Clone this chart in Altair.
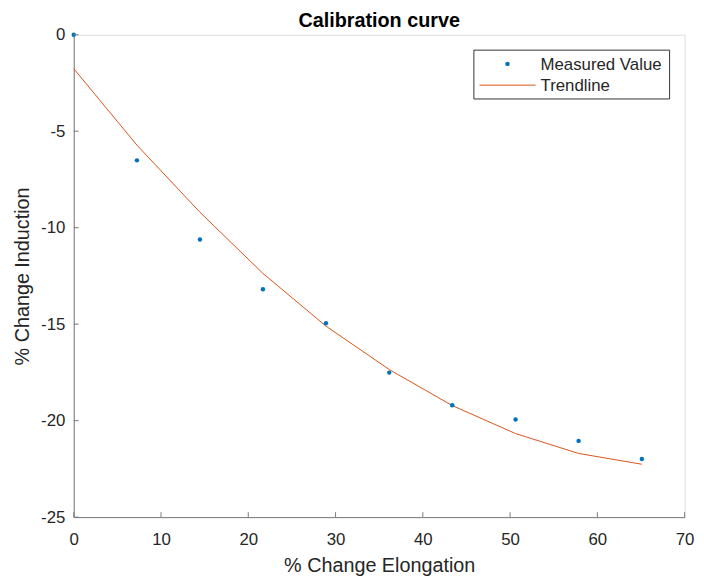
import altair as alt
import pandas as pd

# ---- data ----
elongation = [0, 7.24, 14.46, 21.68, 28.9, 36.15, 43.37, 50.63, 57.85, 65.1]
measured = [0, -6.51, -10.61, -13.19, -14.95, -17.51, -19.2, -19.94, -21.05, -21.99]
trendline = [-1.76, -5.72, -9.20, -12.37, -15.10, -17.35, -19.22, -20.67, -21.70, -22.26]
x_ticks = [0, 10, 20, 30, 40, 50, 60, 70]
y_ticks = [0, -5, -10, -15, -20, -25]
legend_labels = ["Measured Value", "Trendline"]
title_text = "Calibration curve"

df = pd.DataFrame({"x": elongation, "m": measured, "t": trendline})
xt = pd.DataFrame({"v": x_ticks})
yt = pd.DataFrame({"v": y_ticks})

W, H = 618, 488
FONT = "Liberation Sans"
AX = "#7a7a7a"
TXT = "#262626"
BLUE = "#0072BD"
ORANGE = "#D95319"

xscale = alt.Scale(domain=[0, 70], nice=False, zero=False)
yscale = alt.Scale(domain=[-25, 0], nice=False, zero=False)

xaxis = alt.Axis(values=x_ticks, ticks=False, tickSize=0, grid=False, domainColor=AX,
                 domainWidth=1, labelFont=FONT, labelFontSize=17, labelColor=TXT,
                 labelPadding=15, labelFlush=False, labelOverlap=False,
                 labelExpr="toString(datum.value)",
                 title="% Change Elongation", titleFont=FONT, titleFontSize=20,
                 titleFontWeight="normal", titleColor=TXT, titleBaseline="alphabetic",
                 titleX=W / 2, titleY=55.5, titleAnchor="middle")
yaxis = alt.Axis(values=y_ticks, ticks=False, tickSize=0, grid=False, domainColor=AX,
                 domainWidth=1, labelFont=FONT, labelFontSize=17, labelColor=TXT,
                 labelPadding=9, labelFlush=False, labelOverlap=False,
                 labelExpr="toString(datum.value)",
                 title="% Change Induction", titleFont=FONT, titleFontSize=20,
                 titleFontWeight="normal", titleColor=TXT, titleBaseline="alphabetic",
                 titleAngle=270, titleX=-46, titleY=H / 2, titleAnchor="middle")

base = alt.Chart(df)

points = base.mark_point(filled=True, size=20, color=BLUE, opacity=1).encode(
    x=alt.X("x:Q", scale=xscale, axis=xaxis),
    y=alt.Y("m:Q", scale=yscale, axis=yaxis),
)
line = base.mark_line(color=ORANGE, strokeWidth=1).encode(
    x=alt.X("x:Q", scale=xscale),
    y=alt.Y("t:Q", scale=yscale),
)

# inward tick marks (MATLAB style)
xticks_l = alt.Chart(xt).mark_rule(color=AX, strokeWidth=1).encode(
    x=alt.X("v:Q", scale=xscale), y=alt.value(H), y2=alt.value(H - 5))
yticks_l = alt.Chart(yt).mark_rule(color=AX, strokeWidth=1).encode(
    y=alt.Y("v:Q", scale=yscale), x=alt.value(0), x2=alt.value(5))

one = alt.Data(values=[{"a": 1}])

# chart title
title_m = alt.Chart(one).mark_text(align="center", baseline="alphabetic", font=FONT,
                                   fontSize=20, fontWeight="bold", color="#000000").encode(
    x=alt.value(W / 2), y=alt.value(-7.5), text=alt.value(title_text))

# legend box (inside the plot, like MATLAB's 'northeast' legend)
leg_box = alt.Chart(one).mark_rect(fill="white", stroke="#333333", strokeWidth=1).encode(
    x=alt.value(404.8), x2=alt.value(602.8), y=alt.value(15.6), y2=alt.value(65))
leg_pt = alt.Chart(one).mark_point(filled=True, size=20, color=BLUE, opacity=1).encode(
    x=alt.value(438.8), y=alt.value(29.5))
leg_ln = alt.Chart(one).mark_rule(color=ORANGE, strokeWidth=1).encode(
    x=alt.value(410.5), x2=alt.value(467.2), y=alt.value(51))
leg_t1 = alt.Chart(one).mark_text(align="left", baseline="middle", font=FONT, fontSize=17,
                                  color=TXT).encode(
    x=alt.value(472.2), y=alt.value(31.1), text=alt.value(legend_labels[0]))
leg_t2 = alt.Chart(one).mark_text(align="left", baseline="middle", font=FONT, fontSize=17,
                                  color=TXT).encode(
    x=alt.value(472.2), y=alt.value(52.3), text=alt.value(legend_labels[1]))

chart = alt.layer(
    line, points, xticks_l, yticks_l, title_m, leg_box, leg_pt, leg_ln, leg_t1, leg_t2
).properties(
    width=W, height=H,
    autosize=alt.AutoSizeParams(type="none"),
    padding={"left": 66.5, "top": 23.7, "right": 11.5, "bottom": 63},
).configure_view(stroke=None).configure(background="white")

chart.save("out.html", embed_options={"renderer": "svg", "actions": False})
